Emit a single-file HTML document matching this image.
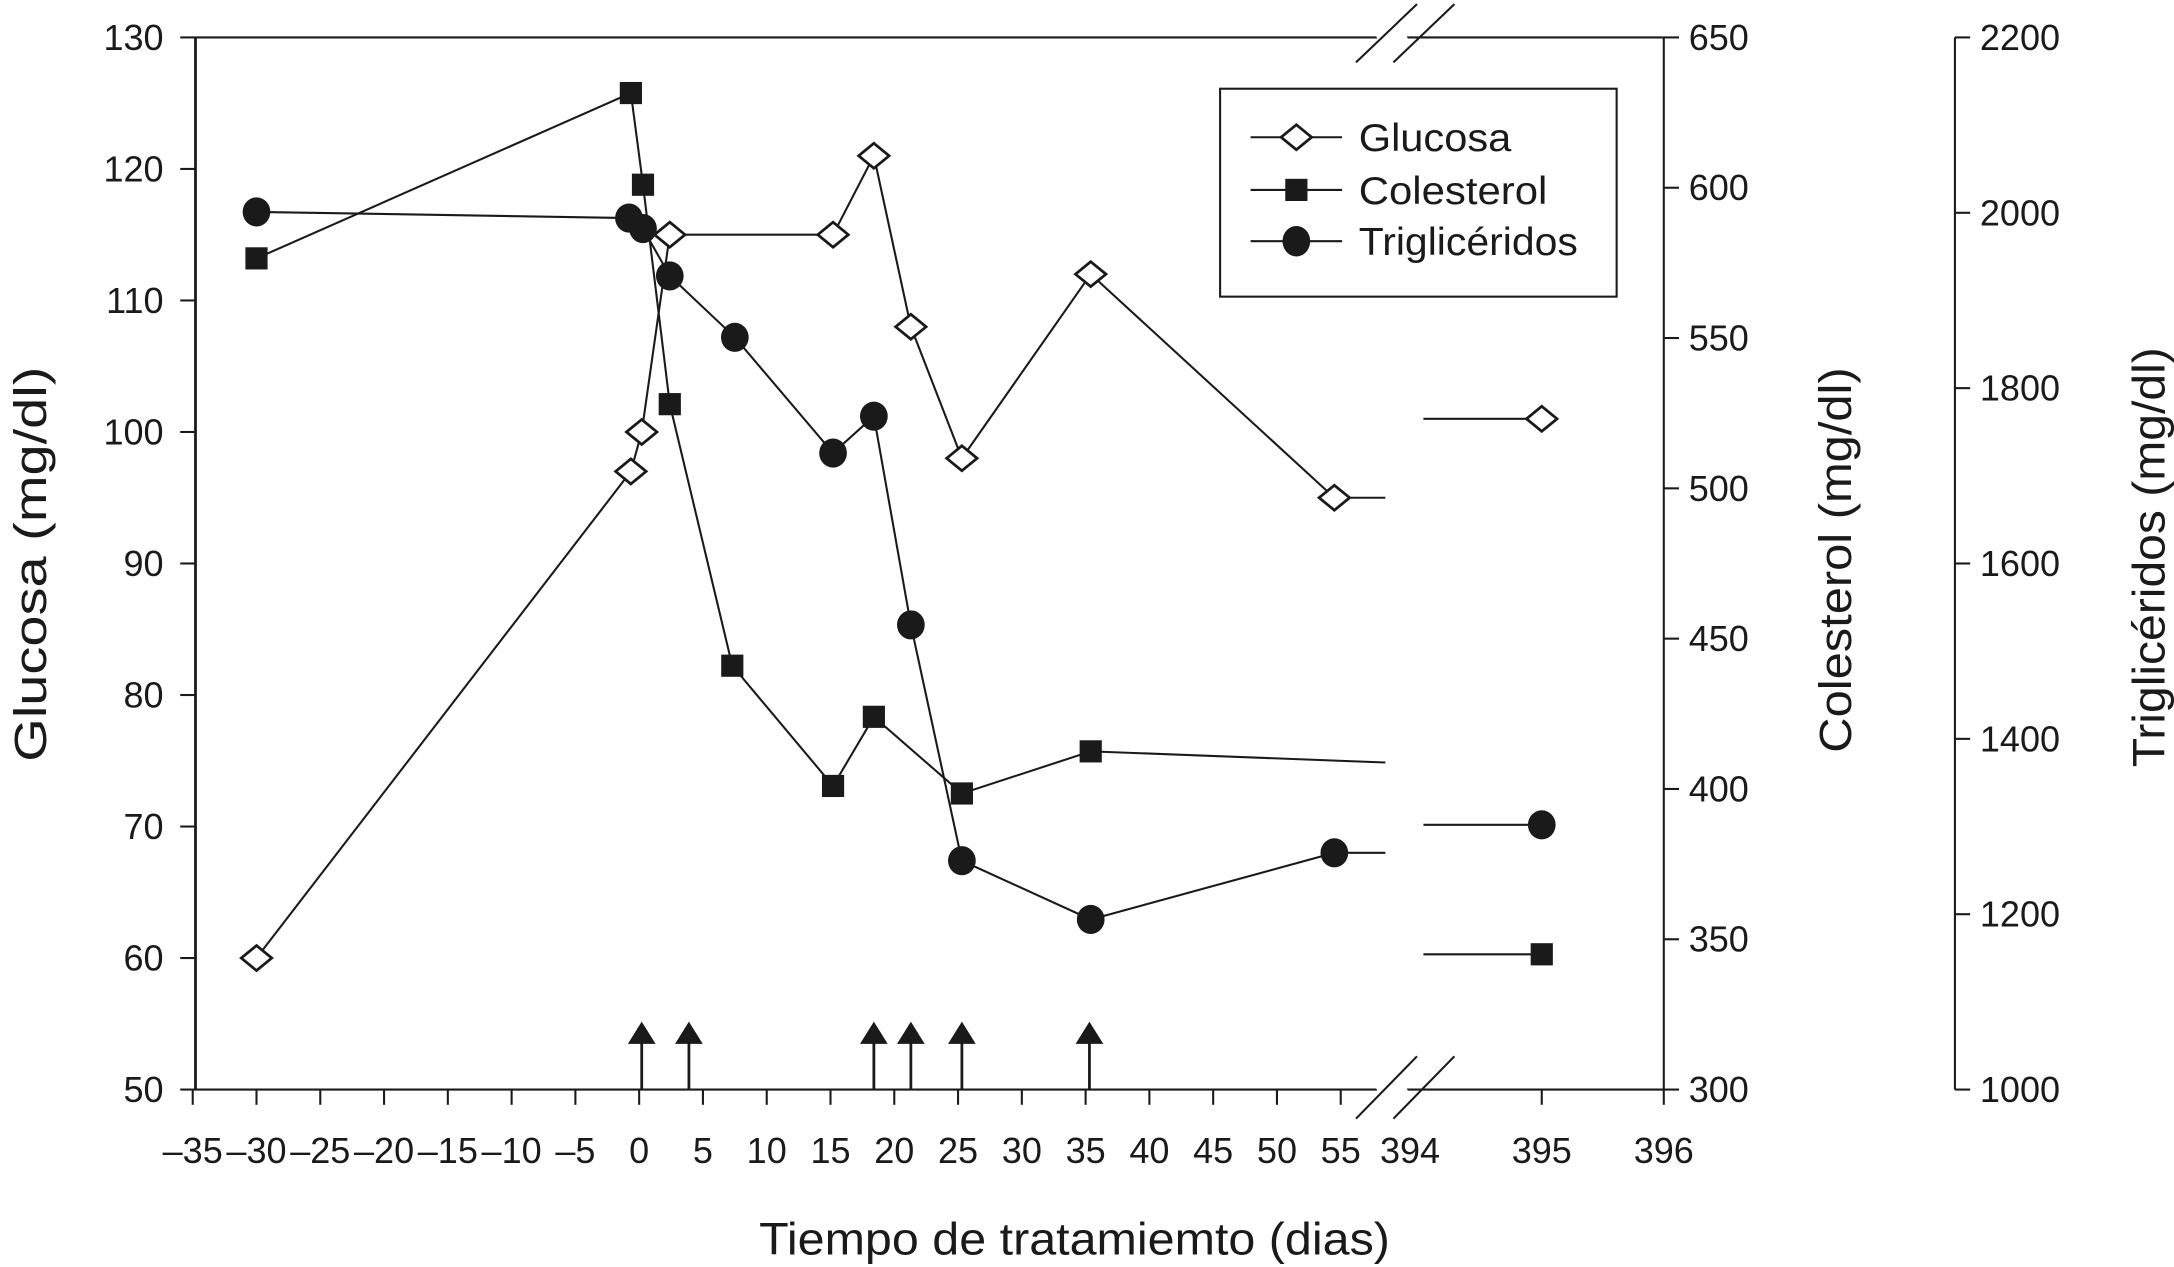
<!DOCTYPE html>
<html><head><meta charset="utf-8"><style>
html,body{margin:0;padding:0;background:#fff}
svg{display:block}
text{font-family:"Liberation Sans",sans-serif;fill:#1a1a1a}
</style></head><body>
<svg id="chart" width="2174" height="1267" viewBox="0 0 1568 914" preserveAspectRatio="none" xmlns="http://www.w3.org/2000/svg">
<g id="axes"></g>
<g id="series"></g>
<g id="legend">
<rect x="880" y="64" width="286" height="150" fill="#fff" stroke="#1a1a1a" stroke-width="1.5"/>
<g><line x1="902" y1="99" x2="968" y2="99" stroke="#1a1a1a" stroke-width="1.5"/><polygon points="924,99 935,90 946,99 935,108" fill="#fff" stroke="#1a1a1a" stroke-width="2"/><text x="980" y="109" font-size="28" textLength="110" lengthAdjust="spacingAndGlyphs">Glucosa</text></g>
<g><line x1="902" y1="137" x2="968" y2="137" stroke="#1a1a1a" stroke-width="1.5"/><rect x="927" y="129" width="16" height="16" fill="#1a1a1a"/><text x="980" y="147" font-size="28" textLength="136" lengthAdjust="spacingAndGlyphs">Colesterol</text></g>
<g><line x1="902" y1="174" x2="968" y2="174" stroke="#1a1a1a" stroke-width="1.5"/><ellipse cx="935" cy="174" rx="10" ry="11" fill="#1a1a1a"/><text x="980" y="184" font-size="28" textLength="158" lengthAdjust="spacingAndGlyphs">Triglicéridos</text></g>
</g>
<text transform="translate(33,407) rotate(-90)" text-anchor="middle" font-size="33" textLength="285" lengthAdjust="spacingAndGlyphs">Glucosa (mg/dl)</text>
<text transform="translate(1335,404) rotate(-90)" text-anchor="middle" font-size="33" textLength="278" lengthAdjust="spacingAndGlyphs">Colesterol (mg/dl)</text>
<text transform="translate(1561,402) rotate(-90)" text-anchor="middle" font-size="33" textLength="303" lengthAdjust="spacingAndGlyphs">Triglicéridos (mg/dl)</text>
<text x="775" y="905" text-anchor="middle" font-size="33" textLength="455" lengthAdjust="spacingAndGlyphs">Tiempo de tratamiemto (dias)</text>
</svg>
<script>
const glucDays=[-30,-0.65,0.2,2.4,15.2,18.4,21.3,25.3,35.4,54.5];
const glucVals=[60,97,100,115,115,121,108,98,112,95];
const glucLate=[395]; const glucLateVals=[101];
const cholDays=[-30,-0.65,0.3,2.4,7.3,15.2,18.4,25.3,35.4];
const cholVals=[576.5,631.5,601,528,441,401,424,398.5,412.5];
const cholBreakVal=[408.8];
const cholLate=[395]; const cholLateVals=[345];
const trigDays=[-30,-0.8,0.3,2.4,7.5,15.2,18.4,21.3,25.3,35.4,54.5];
const trigVals=[2001,1994,1982,1928,1858,1726,1768,1530,1261,1194,1270];
const trigLate=[395]; const trigLateVals=[1302];
const arrowDays=[0.2,3.9,18.4,21.3,25.3,35.3];
const xTicksA=[-35,-30,-25,-20,-15,-10,-5,0,5,10,15,20,25,30,35,40,45,50,55];
const xTicksB=[394,395,396];
const glucTicks=[50,60,70,80,90,100,110,120,130];
const cholTicks=[300,350,400,450,500,550,600,650];
const trigTicks=[1000,1200,1400,1600,1800,2000,2200];
const breakEnd=58.5, breakStart=394.03;

const NS="http://www.w3.org/2000/svg";
const X=d=>d<200?461+9.2*d:1024+88*(d-394);
const YG=v=>786-(v-50)*759/80;
const YC=v=>786-(v-300)*759/350;
const YT=v=>786-(v-1000)*759/1200;
function mk(tag,attrs,parent){const e=document.createElementNS(NS,tag);for(const k in attrs)e.setAttribute(k,attrs[k]);parent.appendChild(e);return e;}
const ax=document.getElementById('axes'), se=document.getElementById('series');
const S={stroke:'#1a1a1a','stroke-width':1.5,fill:'none'};
let l=mk('line',{x1:141,y1:27,x2:141,y2:786,...S,'stroke-width':2},ax);

l=mk('line',{x1:141,y1:786,x2:1200,y2:786,...S},ax);

l=mk('line',{x1:141,y1:27,x2:1200,y2:27,...S},ax);

l=mk('line',{x1:1200,y1:27,x2:1200,y2:786,...S},ax);

l=mk('line',{x1:1410,y1:27,x2:1410,y2:786,...S},ax);

for(const y of [27,786]){const r=mk('polygon',{points:`${992},${y-2} ${1014},${y-2} ${1016},${y+2} ${994},${y+2}`,fill:'#fff'},ax);
}
for(const yy of [[45,3],[807,762]]){
  for(const x0 of [978,1005]){
    const b=mk('line',{x1:x0,y1:yy[0],x2:x0+44,y2:yy[1],...S},ax);
    
  }
}
for(const t of xTicksA.concat(xTicksB)){
  const x=X(t);
  if(t!==394){const k=mk('line',{x1:x,y1:786,x2:x,y2:797,...S},ax);
  }
  const tx=mk('text',{x:t===394?1017:x,y:839,'text-anchor':'middle','font-size':26},ax);
  
  tx.textContent=(t<0?'\u2013'+(-t):String(t));
}
for(const t of glucTicks){const y=YG(t);
  const k=mk('line',{x1:130,y1:y,x2:141,y2:y,...S},ax);
  
  const tx=mk('text',{x:118,y:y+9,'text-anchor':'end','font-size':26},ax);
  tx.textContent=t;}
for(const t of cholTicks){const y=YC(t);
  const k=mk('line',{x1:1200,y1:y,x2:1211,y2:y,...S},ax);
  
  const tx=mk('text',{x:1218,y:y+9,'font-size':26},ax);
  tx.textContent=t;}
for(const t of trigTicks){const y=YT(t);
  const k=mk('line',{x1:1410,y1:y,x2:1421,y2:y,...S},ax);
  
  const tx=mk('text',{x:1428,y:y+9,'font-size':26},ax);
  tx.textContent=t;}
for(const d of arrowDays){const x=X(d);
  const a=mk('line',{x1:x,y1:786,x2:x,y2:750,stroke:'#1a1a1a','stroke-width':2},se);
  
  const h=mk('polygon',{points:`${x-10},753 ${x},737 ${x+10},753`,fill:'#1a1a1a'},se);
  }
function line(pts,name){const p=mk('polyline',{points:pts.map(q=>q.join(',')).join(' '),...S},se);
  }
function diamond(x,y){const m=mk('polygon',{points:`${x-11},${y} ${x},${y-9} ${x+11},${y} ${x},${y+9}`,fill:'#fff',stroke:'#1a1a1a','stroke-width':2},se);
  }
function square(x,y){const m=mk('rect',{x:x-8,y:y-8,width:16,height:16,fill:'#1a1a1a'},se);
  }
function circ(x,y){const m=mk('ellipse',{cx:x,cy:y,rx:10,ry:10.5,fill:'#1a1a1a'},se);
  }
let tp=trigDays.map((d,i)=>[X(d),YT(trigVals[i])]);
line(tp.concat([[X(breakEnd),YT(trigVals[trigVals.length-1])]]),'trigliceridos-line');
line([[X(breakStart),YT(trigLateVals[0])],[X(trigLate[0]),YT(trigLateVals[0])]],'trigliceridos-line-late');
let cp=cholDays.map((d,i)=>[X(d),YC(cholVals[i])]);
line(cp.concat([[X(breakEnd),YC(cholBreakVal[0])]]),'colesterol-line');
line([[X(breakStart),YC(cholLateVals[0])],[X(cholLate[0]),YC(cholLateVals[0])]],'colesterol-line-late');
let gp=glucDays.map((d,i)=>[X(d),YG(glucVals[i])]);
line(gp.concat([[X(breakEnd),YG(glucVals[glucVals.length-1])]]),'glucosa-line');
line([[X(breakStart),YG(glucLateVals[0])],[X(glucLate[0]),YG(glucLateVals[0])]],'glucosa-line-late');
tp.forEach(p=>circ(...p)); circ(X(trigLate[0]),YT(trigLateVals[0]));
cp.forEach(p=>square(...p)); square(X(cholLate[0]),YC(cholLateVals[0]));
gp.forEach(p=>diamond(...p)); diamond(X(glucLate[0]),YG(glucLateVals[0]));
</script>
</body></html>
